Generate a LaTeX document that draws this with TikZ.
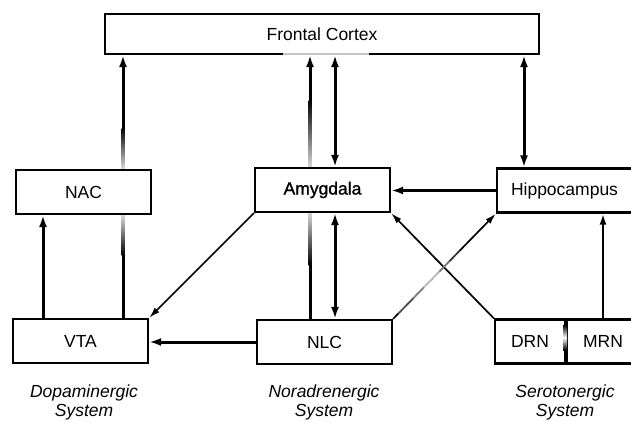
\documentclass[tikz,border=0pt]{standalone}
\usepackage{fontspec}
\setmainfont{Liberation Sans}
\newfontfamily\amyfont[FakeBold=1.2]{Liberation Sans}
\usetikzlibrary{arrows.meta,calc,backgrounds}
\begin{document}
\begin{tikzpicture}[x=1pt,y=-1pt,
  txt/.style={font=\fontsize{17.5pt}{19pt}\selectfont},
  box/.style={txt,draw,line width=2.2pt,fill=white,minimum height=44pt,minimum width=135pt,inner sep=0pt},
  thickarr/.style={line width=3pt,-{Latex[length=12pt,width=8pt]}},
  thickdbl/.style={line width=3pt,{Latex[length=12pt,width=8pt]}-{Latex[length=12pt,width=8pt]}},
  thinarr/.style={line width=1.7pt,-{Latex[length=11pt,width=6.5pt]}},
  midarr/.style={line width=2.2pt,-{Latex[length=11pt,width=7pt]}},
  syslabel/.style={txt,font=\fontsize{17.5pt}{19pt}\selectfont\itshape,align=center}
]
\useasboundingbox (0,0) rectangle (631,420);
\clip (0,0) rectangle (631,420);

% boxes
\node[box,minimum width=434pt,minimum height=40pt] (FC) at (322,34) {Frontal Cortex};
\node[box] (NAC) at (83.5,192) {NAC};
\node[box,font=\fontsize{17.5pt}{19pt}\amyfont] (AMY) at (322.5,190) {Amygdala};
\node[box] (HIP) at (564.5,190.5) {Hippocampus};
\node[box] (VTA) at (80.5,341) {VTA};
\node[box] (NLC) at (324.5,342) {NLC};
\node[box,minimum width=70pt] (DRN) at (530,341.5) {DRN};
\node[box,minimum width=76pt] (MRN) at (603,341.5) {MRN};

% divider between DRN and MRN
\draw[line width=4pt] (DRN.north east) -- (DRN.south east);
\shade[top color=black,bottom color=black,middle color=white] (563,325) rectangle (567,350);

% faded part of the Frontal Cortex bottom border
\draw[gray!45,line width=2pt] (283,54) -- (369,54);

% system labels
\node[syslabel] (L1) at (84,402) {Dopaminergic\\System};
\node[syslabel] (L2) at (324,402) {Noradrenergic\\System};
\node[syslabel] (L3) at (565,402) {Serotonergic\\System};

% x positions of vertical connectors
\coordinate (c43) at (43,0);
\coordinate (c123) at (123,0);
\coordinate (c310) at (310,0);
\coordinate (c335) at (335,0);
\coordinate (c524) at (524,0);

\begin{pgfonlayer}{background}
  \draw[thickarr] (c43 |- VTA.north) -- (c43 |- NAC.south);
  \draw[thickarr] (c123 |- VTA.north) -- (c123 |- FC.south);
  \draw[thickarr] (c310 |- NLC.north) -- (c310 |- FC.south);
  \draw[thickdbl] (c335 |- AMY.north) -- (c335 |- FC.south);
  \draw[thickdbl] (c335 |- NLC.north) -- (c335 |- AMY.south);
  \draw[thickdbl] (c524 |- HIP.north) -- (c524 |- FC.south);
  \draw[thickarr] (HIP.west) -- (HIP.west -| AMY.east);
  \draw[thickarr] (NLC.west) -- (NLC.west -| VTA.east);
  \draw[thinarr] (AMY.south west) -- (VTA.north east);
  \draw[thinarr] (NLC.north east) -- (HIP.south west);
  \draw[thinarr] (DRN.north west) -- (AMY.south east);
  \draw[midarr] (MRN.north) -- (MRN.north |- HIP.south);
  % fades of lines passing behind boxes
  \shade[top color=black,bottom color=gray!25] (121.5,128) rectangle (124.5,170);
  \shade[top color=gray!25,bottom color=black] (121.5,214) rectangle (124.5,255);
  \shade[top color=black,bottom color=gray!30] (308.5,100) rectangle (311.5,168);
  \shade[top color=gray!30,bottom color=black] (308.5,212) rectangle (311.5,265);
  \foreach \a/\b/\o in {0.05/0.2/0.3,0.2/0.3/0.5,0.3/0.45/0.75,0.45/0.55/0.45,0.55/0.65/0.2}{
    \draw[white,opacity=\o,line width=2pt]
      ($(NLC.north east)!\a!(HIP.south west)$) -- ($(NLC.north east)!\b!(HIP.south west)$);
  }
\end{pgfonlayer}
\end{tikzpicture}
\end{document}
